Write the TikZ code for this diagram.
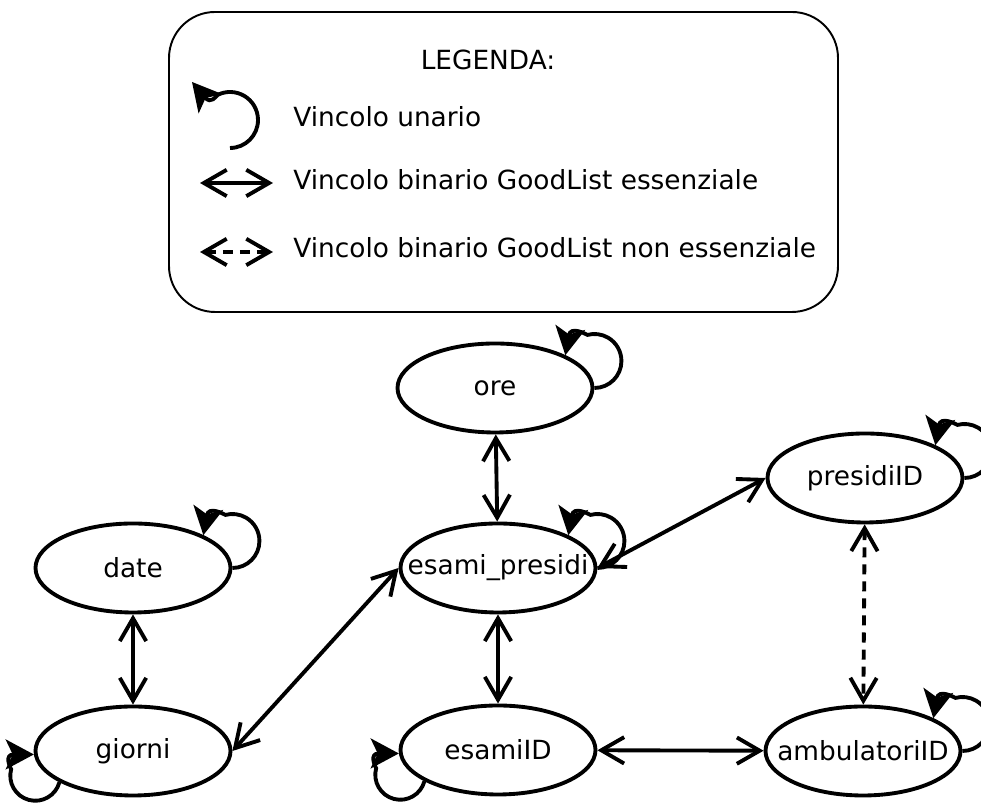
\documentclass[tikz,border=0pt]{standalone}
\usepackage{fontspec}
\setmainfont{DejaVu Sans}
\usetikzlibrary{arrows.meta,shapes.geometric,positioning}

\begin{document}
\begin{tikzpicture}[font=\fontsize{15}{18}\selectfont,
    var/.style={ellipse, draw=black, line width=2.2pt, minimum width=3.9cm, minimum height=1.78cm, inner sep=0pt},
    link/.style={line width=2.2pt, {Straight Barb[length=13pt,width=15pt]}-{Straight Barb[length=13pt,width=15pt]}},
    weak/.style={link, dash pattern=on 5.7pt off 4pt},
    unary/.style={line width=2.2pt, -{Stealth[length=16pt,width=17pt,inset=4pt]}},
    legtext/.style={inner sep=0pt}]
   \useasboundingbox (0,0) rectangle (19.62,16.06);

   %legenda
   \node[draw, line width=1.1pt, rounded corners=0.92cm, minimum width=13.38cm, minimum height=6cm] (legend) at (10.07,12.82) {};
   \node[legtext, anchor=base] (title) at (9.76,14.66) {LEGENDA:};
   \node[legtext, anchor=base west] (l1) at (5.86,13.52) {Vincolo unario};
   \node[legtext, anchor=base west] (l2) at (5.86,12.26) {Vincolo binario GoodList essenziale};
   \node[legtext, anchor=base west] (l3) at (5.86,10.90) {Vincolo binario GoodList non essenziale};
   \coordinate (u0) at (4.60,13.10);
   \coordinate (u1) at (3.84,14.42);
   \coordinate (b0) at (4.00,12.40);
   \coordinate (b1) at (5.46,12.40);
   \coordinate (w0) at (4.00,11.02);
   \coordinate (w1) at (5.46,11.02);

   %variabili
   \node[var] (ore) at (9.90,8.30) {\makebox[0pt]{ore}};
   \node[var] (pres) at (17.30,6.50) {\makebox[0pt]{presidiID}};
   \node[var] (date) at (2.66,4.70) {\makebox[0pt]{date}};
   \node[var] (espres) at (9.96,4.70) {\makebox[0pt]{esami\_presidi}};
   \node[var] (giorni) at (2.66,1.04) {\makebox[0pt]{giorni}};
   \node[var] (esami) at (9.96,1.06) {\makebox[0pt]{esamiID}};
   \node[var] (amb) at (17.26,1.04) {\makebox[0pt]{ambulatoriID}};

   %legenda simboli
   \draw[unary] (u0) arc[start angle=-90, end angle=115, radius=0.56]
      to[out=210, in=-50, out distance=0.05cm, in distance=0.6cm] (u1);
   \path[link] (b0) edge (b1);
   \path[weak] (w0) edge (w1);

   %vincoli unari
   \foreach \v in {ore,espres,date,pres,amb}
     \draw[unary] (\v.east) arc[start angle=-90, end angle=105, radius=0.54]
        to[out=155, in=80, out distance=0.05cm, in distance=0.6cm] (\v.25);
   \foreach \v in {giorni,esami}
     \draw[unary] (\v.203) arc[start angle=-15, end angle=-195, radius=0.5]
        to[out=114, in=180, out distance=0.05cm, in distance=0.6cm] (\v.182);

   %vincoli binari
   \path[link]
    (ore) edge (espres)
    (espres.east) edge (pres.west)
    (espres.west) edge (giorni.east)
    (espres) edge (esami)
    (date) edge (giorni)
    (esami) edge (amb);
   \path[weak]
    (pres) edge (amb);
\end{tikzpicture}
\end{document}
